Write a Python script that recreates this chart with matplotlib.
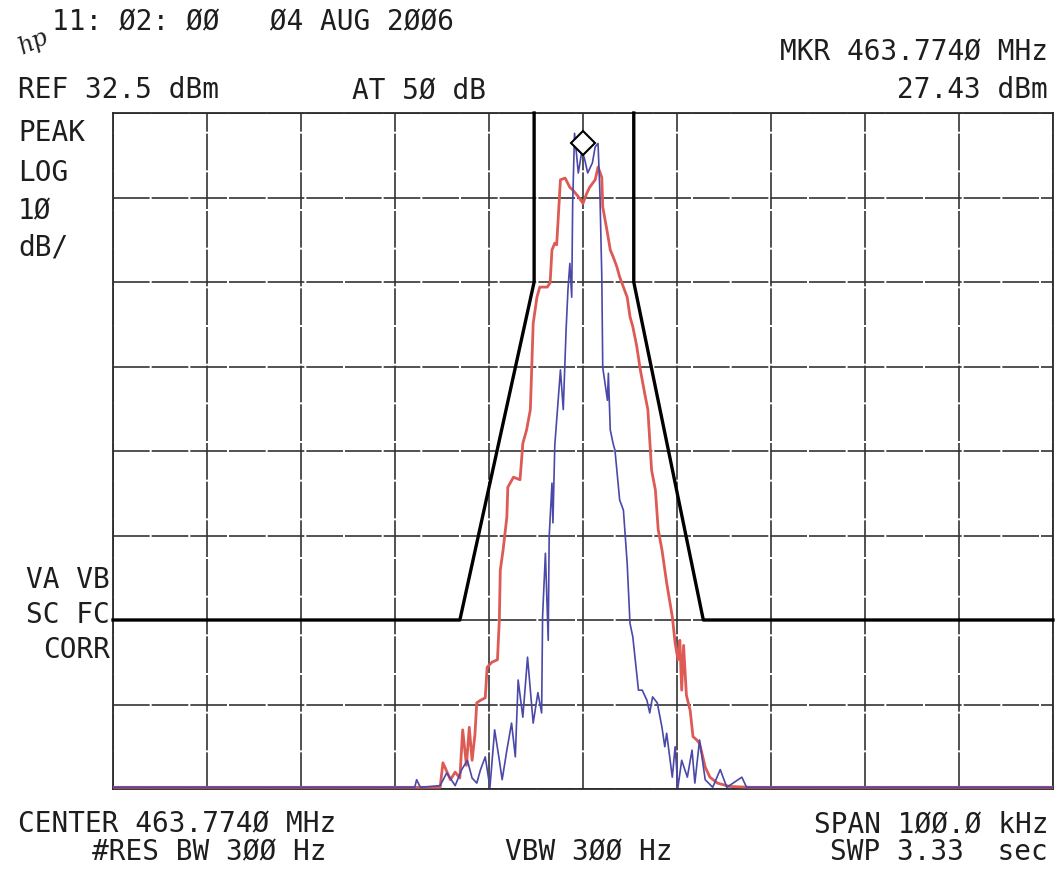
"""
Spectrum analyser screen: channel mask with two measured traces.
"""

import matplotlib
matplotlib.use("Agg")
import matplotlib.pyplot as plt
import numpy as np

# ── Data (offset from centre in kHz, level in dBm) ──
ref_level = 32.5
db_per_div = 10
span_khz = 100.0

mask_khz = [-50, -13.1, -5.2, -5.2, 5.4, 5.4, 12.8, 50]
mask_dbm = [-27.5, -27.5, 12.5, 32.5, 32.5, 12.5, -27.5, -27.5]

red_khz = [-50, -19.5, -15.2, -14.9, -14.1, -13.6, -13.1, -12.8, -12.4, -12.1,
           -11.8, -11.5, -11.3, -10.9, -10.4, -10.2, -9.7, -9.1, -8.9, -8.8,
           -8.5, -8.1, -8.0, -7.4, -6.7, -6.4, -6.0, -5.6, -5.3, -4.9,
           -4.6, -3.8, -3.5, -3.3, -3.0, -2.8, -2.4, -1.9, -1.4, -1.1,
           -0.5, 0.0, 0.4, 0.7, 1.3, 1.6, 2.0, 2.1, 2.6, 2.9,
           3.2, 3.6, 3.9, 4.3, 4.7, 5.0, 5.3, 5.7, 6.1, 6.6,
           6.9, 7.3, 7.7, 8.0, 8.4, 8.9, 9.5, 9.8, 10.1, 10.3,
           10.5, 10.7, 11.0, 11.4, 11.7, 12.1, 12.4, 13.0, 13.5, 14.3,
           15.6, 17.8, 50]
red_dbm = [-47.3, -47.3, -47.3, -44.4, -46.4, -45.5, -46.2, -40.5, -44.7, -40.2,
           -44.1, -41.1, -37.3, -37.0, -36.7, -33.1, -32.5, -32.2, -27.5, -21.6,
           -19.2, -15.3, -11.8, -10.6, -10.9, -6.6, -5.0, -2.6, 7.6, 10.7,
           11.9, 11.9, 12.4, 16.3, 17.1, 16.9, 24.6, 24.8, 23.7, 23.4,
           22.6, 21.8, 23.0, 23.7, 24.6, 26.1, 24.9, 21.4, 18.3, 16.3,
           15.5, 14.3, 13.1, 11.9, 10.7, 8.4, 7.2, 5.0, 2.1, -0.9,
           -2.6, -9.8, -12.1, -16.8, -19.2, -23.1, -27.1, -30.2, -32.2, -29.9,
           -35.8, -30.5, -36.4, -38.2, -41.3, -41.7, -42.1, -44.9, -46.1, -46.8,
           -47.2, -47.3, -47.3]

blue_khz = [-50, -17.9, -17.7, -17.3, -15.2, -14.5, -13.6, -12.9, -12.3, -11.8,
            -11.3, -10.9, -10.4, -9.9, -9.4, -8.9, -8.6, -8.1, -7.6, -7.2,
            -6.9, -6.4, -5.9, -5.3, -4.8, -4.4, -4.3, -4.0, -3.7, -3.6,
            -3.3, -3.2, -3.0, -2.4, -2.1, -1.8, -1.6, -1.4, -1.2, -1.1,
            -0.9, -0.5, -0.1, 0.2, 0.5, 1.0, 1.3, 1.6, 1.8, 2.0,
            2.1, 2.6, 2.7, 2.9, 3.2, 3.4, 3.9, 4.3, 4.7, 5.0,
            5.3, 5.9, 6.3, 6.8, 7.1, 7.4, 7.9, 8.4, 8.7, 8.9,
            9.5, 9.8, 10.1, 10.5, 11.1, 11.6, 11.9, 12.4, 13.0, 13.8,
            14.6, 15.3, 16.9, 17.4, 50]
blue_dbm = [-47.3, -47.3, -46.4, -47.3, -47.1, -45.6, -47.1, -45.2, -44.1, -46.2,
            -46.8, -45.2, -43.7, -47.3, -40.5, -44.1, -46.4, -42.9, -39.7, -43.7,
            -34.6, -39.0, -31.9, -39.7, -36.1, -38.5, -27.1, -19.6, -29.9, -17.7,
            -11.3, -16.0, -6.8, 2.1, -2.6, 6.8, 11.6, 14.7, 10.7, 21.8,
            30.1, 25.4, 28.1, 26.9, 25.4, 26.6, 28.5, 28.9, 23.0, 13.1,
            2.4, -1.5, 1.7, -5.0, -6.6, -7.4, -13.3, -14.5, -20.8, -27.9,
            -29.5, -35.8, -35.8, -37.0, -38.5, -36.6, -37.3, -40.2, -42.5, -40.9,
            -46.1, -42.5, -47.3, -44.1, -46.1, -42.9, -46.8, -41.7, -46.4, -47.3,
            -45.2, -47.3, -46.1, -47.3, -47.3]

marker_khz = 0.0
marker_dbm = 29.0

RED = "#dd5a55"
BLUE = "#4a48a8"
INK = "#1e1e1e"
MONO = "DejaVu Sans Mono"


def main():
    fig = plt.figure(figsize=(10.56, 8.69), dpi=100)
    ax = fig.add_axes([113 / 1056, 1 - 789 / 869, 940 / 1056, 676 / 869])

    bottom = ref_level - 8 * db_per_div
    ax.set_xlim(-span_khz / 2, span_khz / 2)
    ax.set_ylim(bottom, ref_level)

    # ── Graticule ──
    ax.set_xticks(np.arange(-50, 51, 10))
    ax.set_yticks(np.arange(bottom, ref_level + 0.1, db_per_div))
    ax.tick_params(length=0, labelbottom=False, labelleft=False)
    ax.grid(True, color="#333333", lw=1.2, linestyle=(0, (22, 1.2)))
    for s in ax.spines.values():
        s.set_color("#2a2a2a")
        s.set_linewidth(1.3)

    # ── Traces ──
    ax.plot(red_khz, red_dbm, color=RED, lw=2.0, zorder=3)
    ax.plot(blue_khz, blue_dbm, color=BLUE, lw=1.2, zorder=4)
    # mask drawn as two halves so no extra segment sits on the top edge
    ax.plot(mask_khz[:4], mask_dbm[:4], color="black", lw=2.4, zorder=5, clip_on=False)
    ax.plot(mask_khz[4:], mask_dbm[4:], color="black", lw=2.4, zorder=5, clip_on=False)
    ax.plot([marker_khz], [marker_dbm], marker="D", ms=12, mfc="white",
            mec="black", mew=1.5, zorder=6)

    # ── Annotations ──
    fs = 20
    kw = dict(family=MONO, fontsize=fs, color=INK, va="center")

    def px(x, y, s, ha="left"):
        fig.text(x / 1056, 1 - y / 869, s, ha=ha, **kw)

    fig.text(34 / 1056, 1 - 42 / 869, "hp", fontsize=17, fontstyle="italic",
             family="DejaVu Serif", color=INK, ha="center", va="center", rotation=25)
    px(52, 22, "11: Ø2: ØØ   Ø4 AUG 2ØØ6")
    px(1048, 52, "MKR 463.774Ø MHz", ha="right")
    px(18, 90, "REF 32.5 dBm")
    px(352, 90, "AT 5Ø dB")
    px(1048, 90, "27.43 dBm", ha="right")

    px(18, 133, "PEAK")
    px(18, 173, "LOG")
    px(18, 211, "1Ø")
    px(18, 247, "dB/")

    px(110, 580, "VA VB", ha="right")
    px(110, 615, "SC FC", ha="right")
    px(110, 650, "CORR", ha="right")

    px(18, 824, "CENTER 463.774Ø MHz")
    px(92, 852, "#RES BW 3ØØ Hz")
    px(505, 852, "VBW 3ØØ Hz")
    px(1048, 824, "SPAN 1ØØ.Ø kHz", ha="right")
    px(1048, 852, "SWP 3.33  sec", ha="right")

    fig.savefig("out.png", dpi=100)


if __name__ == "__main__":
    main()
